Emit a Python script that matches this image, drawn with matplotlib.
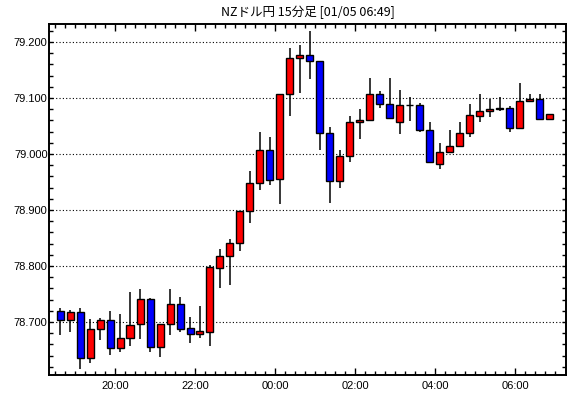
import matplotlib
matplotlib.use("Agg")
import matplotlib.pyplot as plt
from matplotlib.ticker import FixedLocator, MultipleLocator, FormatStrFormatter
import pandas as pd
import numpy as np

title = "NZドル円 15分足 [01/05 06:49]"
times = pd.date_range("2000-01-04 18:30", periods=50, freq="15min")

opens = [78.720, 78.703, 78.717, 78.635, 78.687, 78.703, 78.653, 78.671, 78.696, 78.741,
         78.655, 78.696, 78.733, 78.689, 78.679, 78.683, 78.797, 78.817, 78.841, 78.899,
         78.949, 79.007, 78.955, 79.107, 79.171, 79.176, 79.166, 79.037, 78.951, 78.996,
         79.057, 79.060, 79.107, 79.089, 79.058, 79.087, 79.087, 79.042, 78.983, 79.003,
         79.014, 79.037, 79.067, 79.076, 79.082, 79.082, 79.046, 79.094, 79.098, 79.062]
highs = [78.725, 78.721, 78.725, 78.705, 78.707, 78.720, 78.715, 78.754, 78.759, 78.742,
         78.696, 78.759, 78.745, 78.709, 78.729, 78.801, 78.830, 78.848, 78.899, 78.970,
         79.039, 79.030, 79.108, 79.189, 79.195, 79.220, 79.166, 79.048, 79.007, 79.067,
         79.080, 79.135, 79.112, 79.135, 79.114, 79.101, 79.091, 79.058, 79.019, 79.042,
         79.058, 79.089, 79.107, 79.098, 79.102, 79.085, 79.126, 79.108, 79.107, 79.071]
lows = [78.676, 78.683, 78.617, 78.627, 78.667, 78.641, 78.647, 78.658, 78.670, 78.647,
        78.638, 78.676, 78.682, 78.663, 78.672, 78.658, 78.761, 78.766, 78.826, 78.876,
        78.936, 78.945, 78.910, 79.067, 79.109, 79.134, 79.008, 78.913, 78.940, 78.986,
        79.026, 79.060, 79.082, 79.062, 79.035, 79.059, 79.039, 78.985, 78.974, 79.003,
        79.014, 79.030, 79.057, 79.066, 79.076, 79.039, 79.046, 79.094, 79.062, 79.062]
closes = [78.703, 78.717, 78.635, 78.687, 78.703, 78.653, 78.671, 78.694, 78.741, 78.655,
          78.696, 78.733, 78.687, 78.679, 78.684, 78.798, 78.817, 78.841, 78.899, 78.949,
          79.007, 78.953, 79.107, 79.171, 79.176, 79.166, 79.037, 78.951, 78.996, 79.057,
          79.060, 79.108, 79.089, 79.064, 79.087, 79.087, 79.042, 78.985, 79.003, 79.014,
          79.037, 79.069, 79.076, 79.080, 79.080, 79.046, 79.094, 79.098, 79.062, 79.071]

o = np.array(opens); h = np.array(highs); l = np.array(lows); c = np.array(closes)
x = np.arange(len(o))

fig = plt.figure(figsize=(5.70, 3.98), dpi=100)
ax = fig.add_axes([49/570, 23/398, 517/570, 351/398])

ax.vlines(x, l, h, color="black", linewidth=1.1, zorder=2)
colors = np.where(c > o, "#FF0000", np.where(c < o, "#0000FF", "#000000"))
ax.bar(x, np.abs(c - o), bottom=np.minimum(o, c), width=0.7, color=colors,
       edgecolor="black", linewidth=1.0, zorder=3)

ax.set_xlim(-1.1, 50.6)
ax.set_ylim(78.6054, 79.2321)

# y axis
ax.yaxis.set_major_locator(MultipleLocator(0.1))
ax.yaxis.set_minor_locator(MultipleLocator(0.02))
ax.yaxis.set_major_formatter(FormatStrFormatter("%.3f"))
ax.grid(axis="y", which="major", color="black", linestyle=(0, (1, 2)), linewidth=0.8, zorder=1)

# x axis
major_pos = [i - 0.5 for i, t in enumerate(times) if t.minute == 0 and t.hour % 2 == 0]
major_lab = [times[i].strftime("%H:%M") for i, t in enumerate(times) if t.minute == 0 and t.hour % 2 == 0]
ax.xaxis.set_major_locator(FixedLocator(major_pos))
ax.set_xticklabels(major_lab)
ax.xaxis.set_minor_locator(FixedLocator([i - 0.5 for i in range(len(times) + 1)]))

ax.tick_params(which="both", direction="in", top=True, right=True, width=1.0,
               labelsize=8, colors="black", pad=4)
ax.tick_params(axis="x", which="major", length=5)
ax.tick_params(axis="x", which="minor", length=3)
ax.tick_params(axis="y", which="major", length=3, pad=1)
ax.tick_params(axis="y", which="minor", length=3)
for lab in ax.get_xticklabels() + ax.get_yticklabels():
    lab.set_family(["Liberation Sans", "DejaVu Sans"])

for s in ax.spines.values():
    s.set_linewidth(1.4)
    s.set_color("black")

fig.text((49 + 566) / 2 / 570, 1 - 12 / 398, title, ha="center", va="center",
         fontsize=9, family=["Noto Sans CJK JP", "DejaVu Sans"])

fig.savefig("out.png", dpi=100, facecolor="white")
